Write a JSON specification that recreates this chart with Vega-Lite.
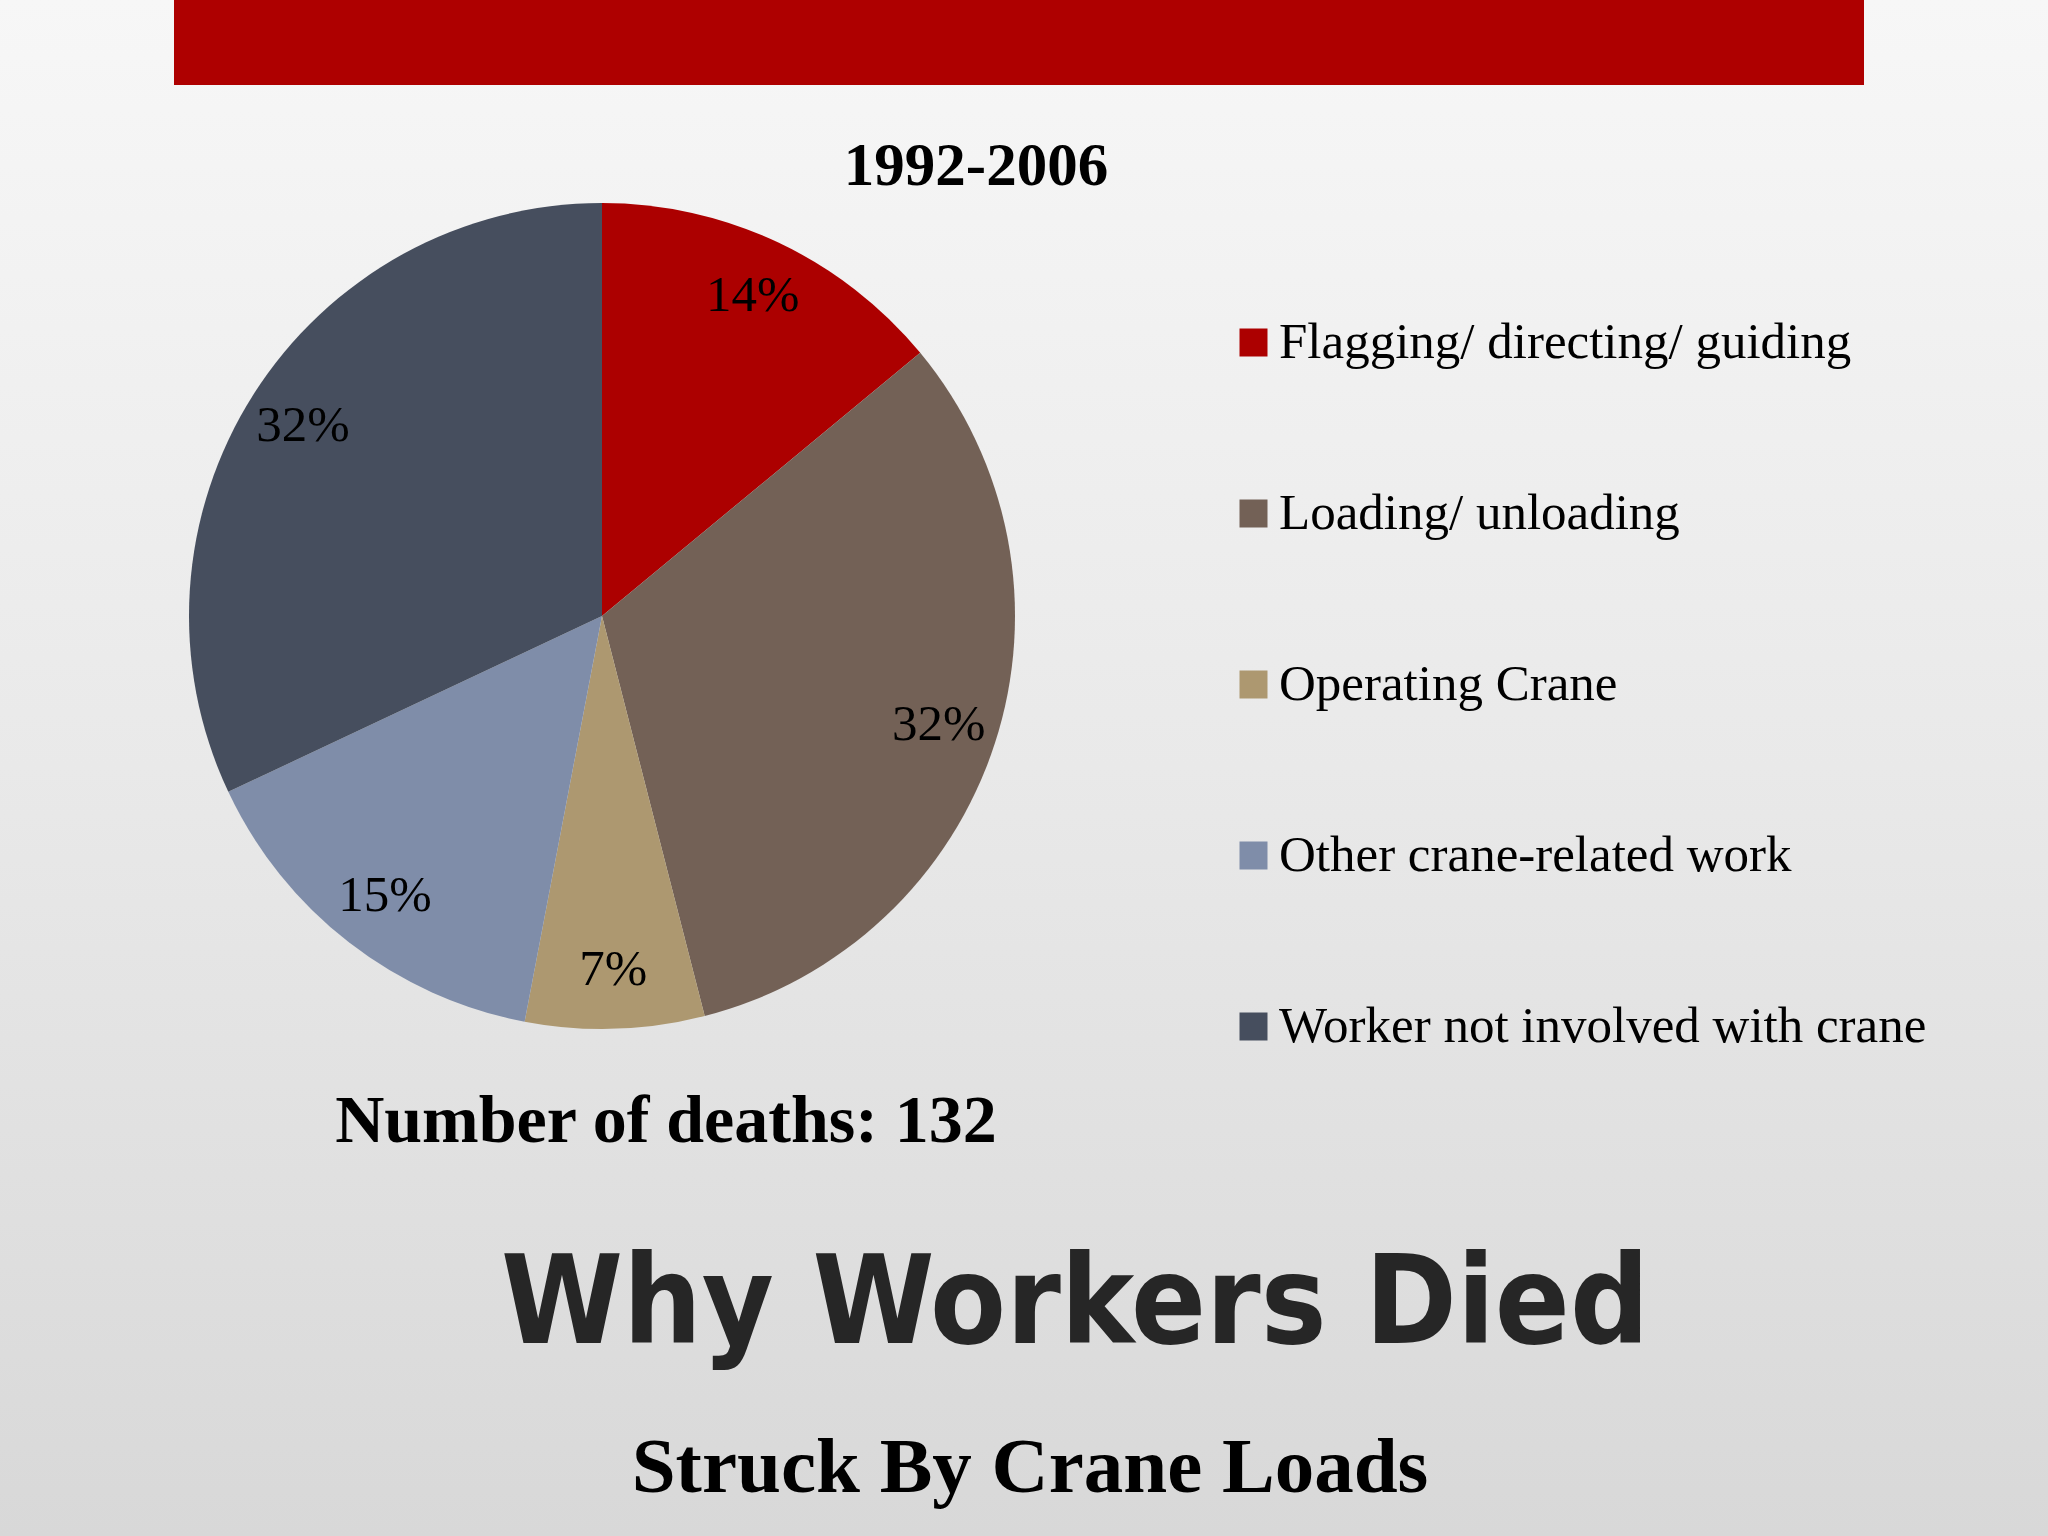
{
  "$schema": "https://vega.github.io/schema/vega-lite/v6.json",
  "width": 2048,
  "height": 1536,
  "autosize": "none",
  "padding": 0,
  "background": "#E8E8E8",
  "view": {
    "stroke": null,
    "fill": {
      "gradient": "linear",
      "x1": 0, "y1": 0, "x2": 0, "y2": 1,
      "stops": [
        {"offset": 0, "color": "#F7F7F7"},
        {"offset": 0.5, "color": "#E9E9E9"},
        {"offset": 1, "color": "#D8D8D8"}
      ]
    }
  },
  "data": {
    "values": [
      {"category": "Flagging/ directing/ guiding", "share": 0.14},
      {"category": "Loading/ unloading", "share": 0.32},
      {"category": "Operating Crane", "share": 0.07},
      {"category": "Other crane-related work", "share": 0.15},
      {"category": "Worker not involved with crane", "share": 0.32}
    ]
  },
  "layer": [
    {
      "data": {"values": [{"item": "bar"}]},
      "mark": {"type": "rect", "x": 174, "x2": 1864, "y": 0, "y2": 85, "color": "#AE0000"},
      "encoding": {}
    },
    {
      "mark": {"type": "arc", "radius": 413, "x": 602, "y": 616, "stroke": null},
      "encoding": {
        "theta": {"field": "share", "type": "quantitative", "stack": true},
        "order": {"field": "category", "type": "ordinal", "sort": "ascending"},
        "color": {
          "field": "category",
          "type": "nominal",
          "scale": {
            "domain": ["Flagging/ directing/ guiding", "Loading/ unloading", "Operating Crane", "Other crane-related work", "Worker not involved with crane"],
            "range": ["#AC0000", "#736156", "#AD9870", "#7F8DA9", "#464E5E"]
          },
          "legend": {
            "orient": "none",
            "legendX": 1228,
            "legendY": 317,
            "title": null,
            "padding": 0,
            "labelFont": "Liberation Serif",
            "labelFontSize": 51,
            "labelColor": "#000000",
            "labelLimit": 900,
            "labelOffset": 0,
            "symbolType": "square",
            "symbolSize": 784,
            "symbolStrokeWidth": 0,
            "symbolOpacity": 1,
            "rowPadding": 119
          }
        }
      }
    },
    {
      "mark": {"type": "text", "radius": 354, "x": 602, "y": 616, "font": "Liberation Serif", "fontSize": 51, "color": "#000000"},
      "encoding": {
        "theta": {"field": "share", "type": "quantitative", "stack": true},
        "order": {"field": "category", "type": "ordinal", "sort": "ascending"},
        "detail": {"field": "category", "type": "nominal"},
        "text": {"field": "share", "type": "quantitative", "format": ".0%"}
      }
    },
    {
      "data": {"values": [{"t": "1992-2006"}]},
      "mark": {"type": "text", "x": 976, "y": 185, "align": "center", "baseline": "alphabetic", "font": "Liberation Serif", "fontWeight": "bold", "fontSize": 61, "color": "#000000"},
      "encoding": {"text": {"field": "t"}}
    },
    {
      "data": {"values": [{"t": "Number of deaths: 132"}]},
      "mark": {"type": "text", "x": 666, "y": 1142, "align": "center", "baseline": "alphabetic", "font": "Liberation Serif", "fontWeight": "bold", "fontSize": 68, "color": "#000000"},
      "encoding": {"text": {"field": "t"}}
    },
    {
      "data": {"values": [{"t": "Why Workers Died"}]},
      "mark": {"type": "text", "x": 1075, "y": 1343, "align": "center", "baseline": "alphabetic", "font": "DejaVu Sans Condensed", "fontWeight": 900, "fontSize": 123, "color": "#262626"},
      "encoding": {"text": {"field": "t"}}
    },
    {
      "data": {"values": [{"item": "line"}]},
      "mark": {"type": "rule", "x": 174, "x2": 1864, "y": 1385, "strokeWidth": 6, "color": "#B00000"},
      "encoding": {}
    },
    {
      "data": {"values": [{"t": "Struck By Crane Loads"}]},
      "mark": {"type": "text", "x": 1030, "y": 1492, "align": "center", "baseline": "alphabetic", "font": "Liberation Serif", "fontWeight": "bold", "fontSize": 79, "color": "#000000"},
      "encoding": {"text": {"field": "t"}}
    }
  ]
}
